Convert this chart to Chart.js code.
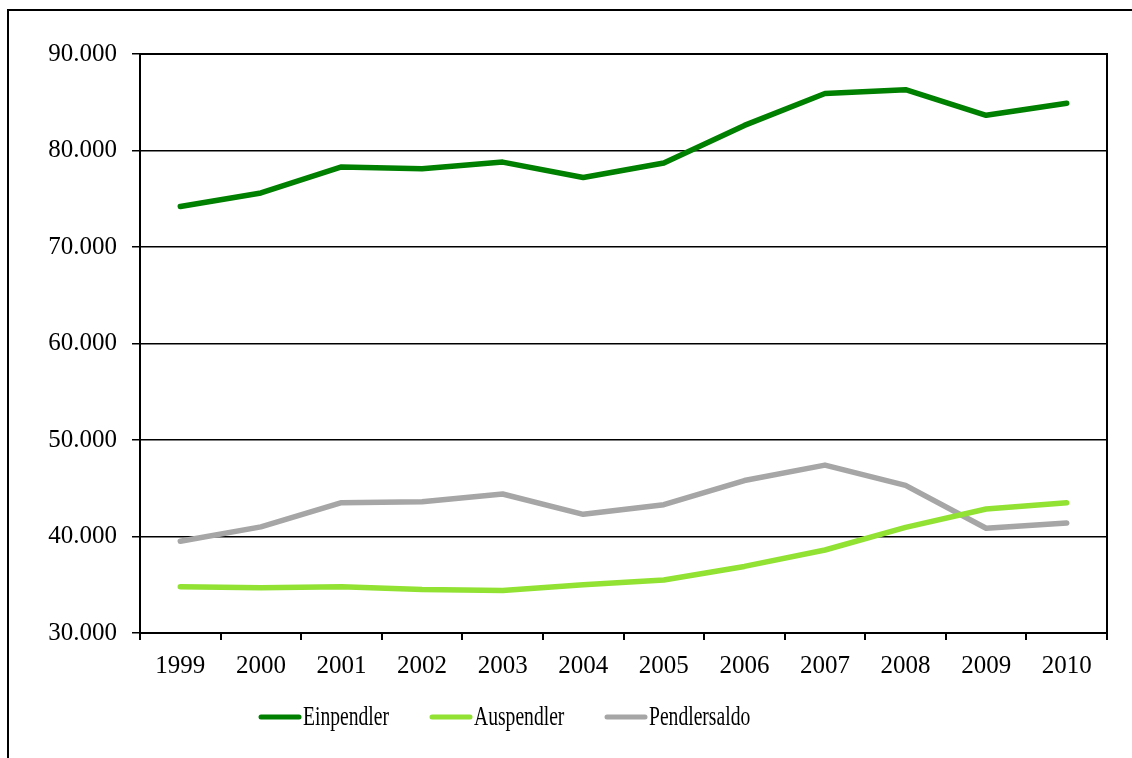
<!DOCTYPE html>
<html lang="de">
<head>
<meta charset="utf-8">
<title>Pendler 1999-2010</title>
<script src="https://cdn.jsdelivr.net/npm/chart.js@4/dist/chart.umd.min.js"></script>
<style>
	html, body { margin: 0; padding: 0; background: #fff; overflow: hidden; }
	#frame {
		position: absolute; left: 7px; top: 9px; width: 1300px; height: 900px;
		border-left: 2px solid #000; border-top: 2px solid #000;
	}
	#chart { position: absolute; left: 0; top: 0; }
</style>
</head>
<body>
<div id="frame"></div>
<canvas id="chart" width="1132" height="758"></canvas>
<script>
// Ein- und Auspendler, Jahreswerte
const years = ['1999','2000','2001','2002','2003','2004','2005','2006','2007','2008','2009','2010'];
const einpendler   = [74200, 75600, 78300, 78100, 78800, 77200, 78700, 82600, 85900, 86300, 83650, 84900];
const auspendler   = [34800, 34700, 34800, 34500, 34400, 35000, 35500, 36900, 38600, 40950, 42850, 43500];
const pendlersaldo = [39500, 41000, 43500, 43600, 44400, 42300, 43300, 45800, 47400, 45300, 40850, 41400];
const yTicks = [30000, 40000, 50000, 60000, 70000, 80000, 90000];

const serif = "'Liberation Serif', 'Times New Roman', serif";

(function(){
	// box around the plot area
	const plotBorder = {
		id: 'plotBorder',
		afterDraw(chart){
			const a = chart.chartArea, ctx = chart.ctx;
			ctx.save();
			ctx.strokeStyle = '#000';
			ctx.lineWidth = 2;
			ctx.strokeRect(a.left, a.top, a.right - a.left, a.bottom - a.top);
			ctx.restore();
		}
	};

	// legend below the axis: line sample + narrow serif label
	const lineLegend = {
		id: 'lineLegend',
		afterDraw(chart, args, opts){
			const ctx = chart.ctx;
			ctx.save();
			chart.data.datasets.forEach(function(ds, i){
				const x = opts.starts[i], y = opts.y;
				ctx.strokeStyle = ds.borderColor;
				ctx.lineWidth = 5;
				ctx.lineCap = 'round';
				ctx.beginPath();
				ctx.moveTo(x + 2, y);
				ctx.lineTo(x + 40, y);
				ctx.stroke();
				ctx.save();
				ctx.translate(x + 44, y + 1);
				ctx.scale(0.7, 1);
				ctx.fillStyle = '#000';
				ctx.font = '28px ' + serif;
				ctx.textBaseline = 'middle';
				ctx.fillText(ds.label, 0, 0);
				ctx.restore();
			});
			ctx.restore();
		}
	};

	function line(label, data, color){
		return {
			label: label, data: data, borderColor: color, backgroundColor: color,
			borderWidth: 5.5, pointRadius: 0, tension: 0,
			borderCapStyle: 'round', borderJoinStyle: 'round'
		};
	}

	new Chart(document.getElementById('chart').getContext('2d'), {
		type: 'line',
		data: {
			labels: years,
			datasets: [
				line('Einpendler', einpendler, '#008000'),
				line('Auspendler', auspendler, '#92E234'),
				line('Pendlersaldo', pendlersaldo, '#A6A6A6')
			]
		},
		options: {
			responsive: false,
			animation: false,
			devicePixelRatio: 1,
			layout: { padding: { left: 0, right: 25, top: 54, bottom: 66 } },
			plugins: {
				legend: { display: false },
				tooltip: { enabled: false },
				lineLegend: { starts: [259, 430, 605], y: 717 }
			},
			scales: {
				x: {
					offset: true,
					grid: { offset: true, drawOnChartArea: false, color: '#000', lineWidth: 2, tickLength: 7 },
					border: { color: '#000', width: 2 },
					ticks: { color: '#000', font: { family: serif, size: 25 }, padding: 11, maxRotation: 0 }
				},
				y: {
					min: yTicks[0],
					max: yTicks[yTicks.length - 1],
					afterFit(scale){ scale.width = 140; },
					afterBuildTicks(scale){ scale.ticks = yTicks.map(function(v){ return { value: v }; }); },
					grid: { color: '#000', lineWidth: 1.5, tickLength: 8 },
					border: { color: '#000', width: 2 },
					ticks: {
						color: '#000', padding: 15,
						font: { family: serif, size: 25 },
						callback: function(v){ return v.toLocaleString('de-DE'); }
					}
				}
			}
		},
		plugins: [plotBorder, lineLegend]
	});
})();
</script>
</body>
</html>
